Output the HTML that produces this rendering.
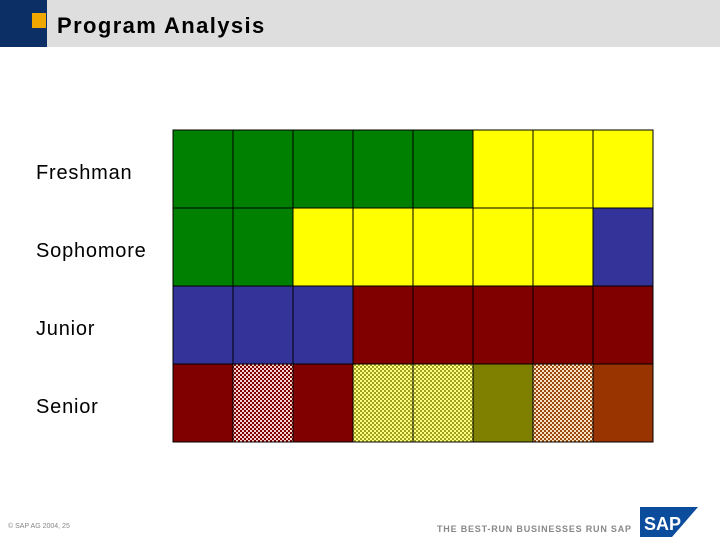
<!DOCTYPE html>
<html><head><meta charset="utf-8"><style>
body{margin:0;width:720px;height:540px;overflow:hidden;background:#fff;font-family:"Liberation Sans",sans-serif;position:relative}
</style></head><body>
<div style="position:absolute;left:0;top:0;width:47px;height:47px;background:#0c3066"></div>
<div style="position:absolute;left:47px;top:0;width:673px;height:47px;background:#dedede"></div>
<div style="position:absolute;left:32px;top:13px;width:14px;height:15px;background:#f0a800"></div>
<div style="position:absolute;left:57px;top:13px;font-size:22px;font-weight:bold;color:#000;letter-spacing:1.4px">Program Analysis</div>
<svg id="chart" width="720" height="540" style="position:absolute;left:0;top:0">
<defs>
<pattern id="p-redwhite" width="4" height="4" patternUnits="userSpaceOnUse"><rect width="4" height="4" fill="#800000"/><rect width="2" height="2" fill="#f4d0d0"/><rect x="2" y="2" width="2" height="2" fill="#f4d0d0"/></pattern>
<pattern id="p-yellowolive" width="4" height="4" patternUnits="userSpaceOnUse"><rect width="4" height="4" fill="#a0a020"/><rect width="2" height="2" fill="#ffff80"/><rect x="2" y="2" width="2" height="2" fill="#ffff80"/></pattern>
<pattern id="p-orangewhite" width="4" height="4" patternUnits="userSpaceOnUse"><rect width="4" height="4" fill="#9a4a10"/><rect width="2" height="2" fill="#f8e0c0"/><rect x="2" y="2" width="2" height="2" fill="#f8e0c0"/></pattern>
</defs>
</svg>
<div style="position:absolute;left:8px;top:523px;font-size:7px;color:#888">© SAP AG 2004, 25</div>
<div style="position:absolute;left:437px;top:524px;font-size:9px;font-weight:bold;color:#888;letter-spacing:0.8px">THE BEST-RUN BUSINESSES RUN SAP</div>
<svg width="60" height="34" style="position:absolute;left:640px;top:505px">
<polygon points="0,2 58,2 32,32 0,32" fill="#0c4c9c"/>
<text x="4" y="25" font-family="Liberation Sans" font-weight="bold" font-size="18" fill="#fff">SAP</text>
</svg>
<script>
const rowLabels=["Freshman","Sophomore","Junior","Senior"];
const fills=["#008000","#ffff00","#333399","#800000","url(#p-redwhite)","url(#p-yellowolive)","#808000","url(#p-orangewhite)","#993300"];
const row0=[0,0,0,0,0,1,1,1];
const row1=[0,0,1,1,1,1,1,2];
const row2=[2,2,2,3,3,3,3,3];
const row3=[3,4,3,5,5,6,7,8];
const grid=[row0,row1,row2,row3];
const x0=173,y0=130,cw=60,rh=78;
const ns="http://www.w3.org/2000/svg";
const svg=document.getElementById('chart');
function xPos(c){return x0+c*cw;}
function yPos(r){return y0+r*rh;}
grid.forEach((row,r)=>{
  row.forEach((v,c)=>{
    const el=document.createElementNS(ns,'rect');
    el.setAttribute('x',xPos(c));el.setAttribute('y',yPos(r));
    el.setAttribute('width',cw);el.setAttribute('height',rh);
    el.setAttribute('fill',fills[v]);el.setAttribute('stroke','#000');el.setAttribute('stroke-width','1');
    
    
    svg.appendChild(el);
  });
  const t=document.createElementNS(ns,'text');
  t.setAttribute('x',36);t.setAttribute('y',yPos(r)+49);
  t.setAttribute('font-family','Liberation Sans');t.setAttribute('font-size','20');
  t.setAttribute('letter-spacing','0.8');
  t.textContent=rowLabels[r];
  
  
  svg.appendChild(t);
});
</script>
</body></html>
